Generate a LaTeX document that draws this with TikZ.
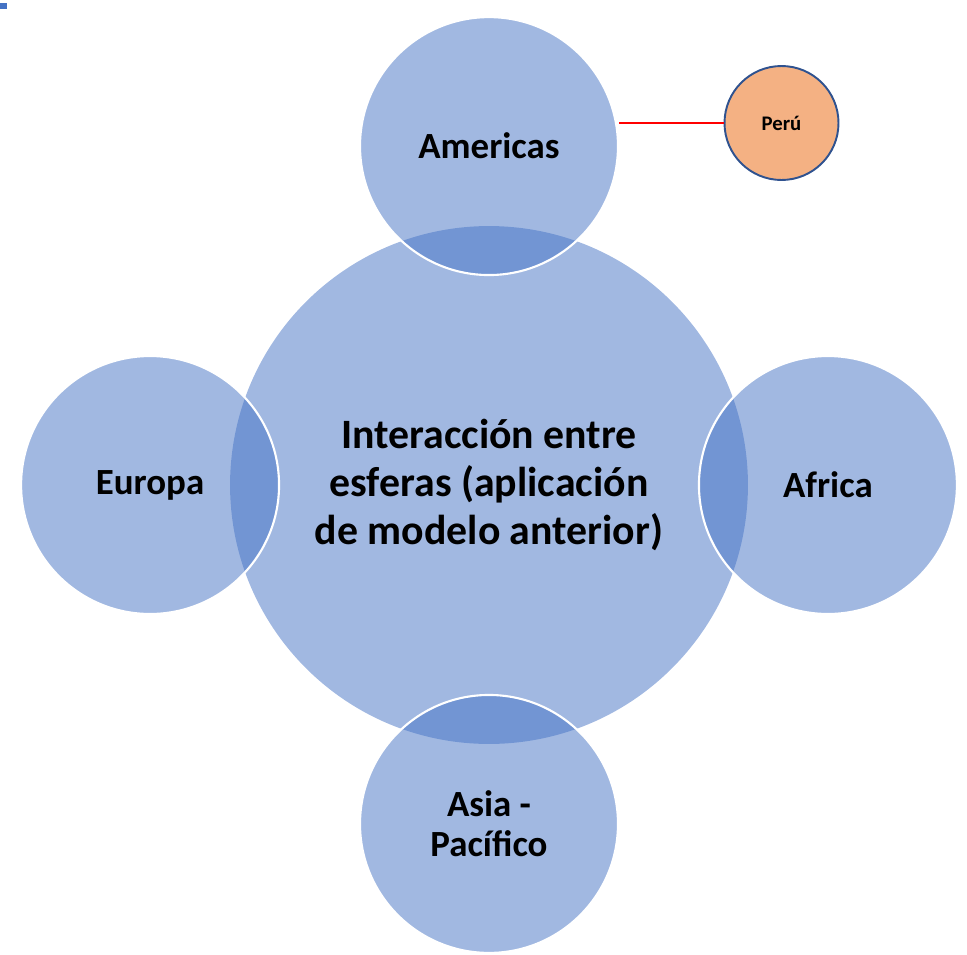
\documentclass[tikz,border=0pt]{standalone}
\usepackage{fontspec}
\setmainfont{Carlito}
\usetikzlibrary{positioning}
\definecolor{sphereblue}{HTML}{4472C4}
\definecolor{spotfill}{HTML}{F4B183}
\definecolor{spotedge}{HTML}{2F528F}
\tikzset{
  core/.style={
    circle,
    minimum size=10.36cm,
    inner sep=0pt,
    align=center,
    fill=sphereblue,
    fill opacity=0.5,
    text opacity=1,
    font=\bfseries\fontsize{23.8}{27.2}\selectfont
  },
  sphere/.style={
    circle,
    minimum size=5.16cm,
    inner sep=0pt,
    align=center,
    draw=white,
    line width=1.2pt,
    fill=sphereblue,
    fill opacity=0.5,
    draw opacity=1,
    text opacity=1,
    font=\bfseries\fontsize{21}{22.7}\selectfont
  },
  spot/.style={
    circle,
    minimum size=2.28cm,
    inner sep=0pt,
    align=center,
    draw=spotedge,
    line width=1.1pt,
    fill=spotfill,
    font=\bfseries\fontsize{11.8}{14}\selectfont
  },
  link/.style={red, line width=0.6pt}
}

\begin{document}
\begin{tikzpicture}[
      x=0.02cm, y=-0.02cm,
      on grid,
      node distance=6.78cm
    ]
    \useasboundingbox (0,0) rectangle (967,954);
    \fill[sphereblue] (0,3) rectangle (6.5,9.3);
    \node (inter) [core] at (489,485) {Interacción entre\\esferas (aplicación\\de modelo anterior)};
    \node (amer) [sphere, above=of inter] {Americas};
    \node (euro) [sphere, left=of inter] {Europa};
    \node (afri) [sphere, right=of inter] {Africa};
    \node (asia) [sphere, below=of inter] {Asia -\\Pacífico};
    \node (peru) [spot] at (781.5,123) {Perú};
    \draw [link] (peru.west -| amer.east) -- (peru.west);
\end{tikzpicture}
\end{document}
